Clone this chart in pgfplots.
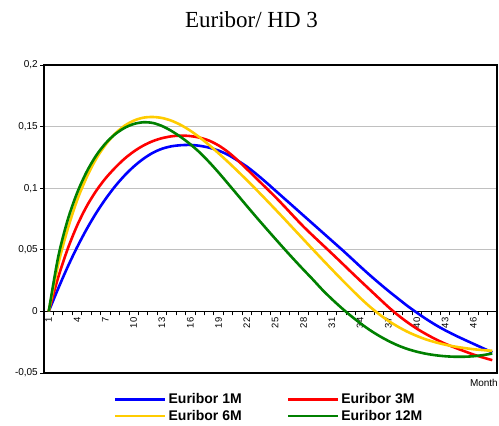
\documentclass[border=0pt]{standalone}
\usepackage{fontspec}
\setmainfont{Liberation Serif}
\newfontfamily\arial{Liberation Sans}
\usepackage{pgfplots}
\usepackage{pgfplotstable}
\pgfplotsset{compat=1.18}
\definecolor{cblue}{RGB}{0,0,255}
\definecolor{cred}{RGB}{255,0,0}
\definecolor{cyel}{RGB}{255,204,0}
\definecolor{cgreen}{RGB}{0,128,0}
\definecolor{gridgray}{RGB}{192,192,192}

\pgfplotstableread{
m b r y g
1 0 0 0 0
2 0.0185 0.0275 0.0380 0.0440
3 0.0360 0.0505 0.0665 0.0740
4 0.0520 0.0695 0.0900 0.0960
5 0.0665 0.0850 0.1085 0.1130
6 0.0795 0.0975 0.1235 0.1262
7 0.0910 0.1078 0.1350 0.1362
8 0.1012 0.1163 0.1440 0.1436
9 0.1100 0.1237 0.1505 0.1488
10 0.1175 0.1297 0.1548 0.1521
11 0.1237 0.1345 0.1572 0.1535
12 0.1286 0.1381 0.1578 0.1530
13 0.1320 0.1406 0.1570 0.1505
14 0.1340 0.1421 0.1548 0.1465
15 0.1349 0.1427 0.1513 0.1415
16 0.1351 0.1423 0.1467 0.1357
17 0.1344 0.1410 0.1412 0.1290
18 0.1329 0.1386 0.1350 0.1212
19 0.1305 0.1347 0.1283 0.1127
20 0.1271 0.1294 0.1213 0.1037
21 0.1225 0.1228 0.1140 0.0946
22 0.1175 0.1155 0.1065 0.0855
23 0.1115 0.1080 0.0988 0.0765
24 0.1050 0.1005 0.0909 0.0677
25 0.0982 0.0930 0.0829 0.0590
26 0.0914 0.0850 0.0748 0.0504
27 0.0846 0.0768 0.0666 0.0420
28 0.0778 0.0688 0.0584 0.0338
29 0.0710 0.0614 0.0502 0.0258
30 0.0642 0.0542 0.0421 0.0175
31 0.0574 0.0470 0.0341 0.0100
32 0.0506 0.0397 0.0262 0.0030
33 0.0436 0.0323 0.0185 -0.0035
34 0.0365 0.0250 0.0110 -0.0095
35 0.0296 0.0178 0.0040 -0.0150
36 0.0230 0.0106 -0.0022 -0.0198
37 0.0166 0.0035 -0.0077 -0.0240
38 0.0105 -0.0030 -0.0124 -0.0276
39 0.0045 -0.0088 -0.0165 -0.0305
40 -0.0010 -0.0140 -0.0199 -0.0327
41 -0.0062 -0.0185 -0.0228 -0.0344
42 -0.0110 -0.0226 -0.0251 -0.0356
43 -0.0153 -0.0262 -0.0270 -0.0364
44 -0.0192 -0.0293 -0.0285 -0.0368
45 -0.0228 -0.0322 -0.0297 -0.0368
46 -0.0263 -0.0350 -0.0307 -0.0364
47 -0.0298 -0.0374 -0.0314 -0.0355
48 -0.0333 -0.0396 -0.0320 -0.0342
}\data

\begin{document}
\begin{tikzpicture}
\useasboundingbox (0,0) rectangle (499pt,426pt);
\node[anchor=base, inner sep=0pt, font=\fontsize{23}{23}\selectfont] at (251.5pt,398pt) {Euribor/ HD 3};
\node[anchor=base east, inner sep=0pt, font=\arial\fontsize{10}{10}\selectfont] at (498pt,39pt) {Month};

% x axis at zero
\begin{axis}[
  at={(44pt,53pt)}, anchor=south west, scale only axis,
  width=453pt, height=308pt,
  xmin=0.5, xmax=48.5, ymin=-0.05, ymax=0.2,
  axis x line=middle, axis y line=none,
  axis line style={-, line width=0.8pt, black},
  xtick={1,4,...,46},
  xticklabels={1,4,7,10,13,16,19,22,25,28,31,34,37,40,43,46},
  minor xtick={1.5,2.5,...,47.5},
  major tick length=0pt, minor tick length=4pt,
  tick align=outside,
  tick style={black, line width=0.8pt},
  hide obscured x ticks=false,
  xticklabel shift=5pt,
  xticklabel style={rotate=90, anchor=east, inner sep=1pt, font=\arial\fontsize{9.5}{10}\selectfont},
]
\end{axis}

\begin{axis}[
  at={(44pt,53pt)}, anchor=south west, scale only axis,
  width=453pt, height=308pt,
  xmin=0.5, xmax=48.5, ymin=-0.05, ymax=0.2,
  xtick=\empty,
  ytick={0.05,0.1,0.15},
  yticklabels={{0,05},{0,1},{0,15}},
  extra y ticks={-0.05,0,0.2},
  extra y tick labels={{-0,05},{0},{0,2}},
  extra y tick style={grid=none},
  ymajorgrids,
  grid style={line width=1pt, gridgray},
  axis line style={line width=1.8pt, black},
  tick align=outside, ytick pos=left,
  major tick length=4pt,
  ytick style={black, line width=0.8pt},
  yticklabel style={font=\arial\fontsize{10}{10}\selectfont, inner sep=2pt},
  legend style={at={(0.497,-0.06)}, anchor=north, draw=none, fill=none,
    font=\arial\bfseries\fontsize{14}{14}\selectfont, legend columns=2,
    /tikz/column 2/.style={column sep=43pt}, row sep=1pt, inner sep=0pt},
  legend image code/.code={\draw[#1] (0pt,0pt) -- (50pt,0pt);},
  legend cell align=left,
  every axis plot/.append style={no marks, line width=2.6pt, smooth},
]
\addplot[cblue] table[x=m, y=b] {\data};
\addlegendentry{Euribor 1M}
\addplot[cred] table[x=m, y=r] {\data};
\addlegendentry{Euribor 3M}
\addplot[cyel] table[x=m, y=y] {\data};
\addlegendentry{Euribor 6M}
\addplot[cgreen] table[x=m, y=g] {\data};
\addlegendentry{Euribor 12M}
\end{axis}
\end{tikzpicture}
\end{document}
